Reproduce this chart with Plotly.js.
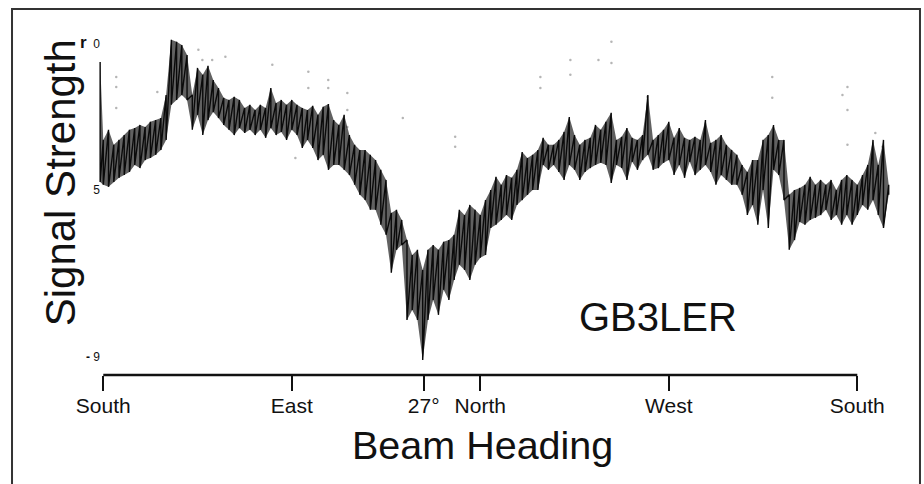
<!DOCTYPE html>
<html>
<head>
<meta charset="utf-8">
<script src="https://cdn.plot.ly/plotly-3.0.1.min.js"></script>
<style>
  html, body { margin: 0; padding: 0; background: #fff; }
  #chart { width: 924px; height: 484px; }
</style>
</head>
<body>
<div id="chart"></div>
<script>
// Beam heading, in degrees of rotation from South (South=0, East=90, North=180, West=270, South=360)
const heading = [-1.5, 0, 2.5, 5, 7.5, 10, 12.5, 15, 17.5, 20, 22.5, 25, 27.5, 30, 32.5, 35, 37.5, 40, 42.5, 45, 47.5, 50, 52.5, 55, 57.5, 60, 62.5, 65, 67.5, 70, 72.5, 75, 77.5, 80, 82.5, 85, 87.5, 90, 92.5, 95, 97.5, 100, 102.5, 105, 107.5, 110, 112.5, 115, 117.5, 120, 122.5, 125, 127.5, 130, 132.5, 135, 137.5, 140, 142.5, 145, 147.5, 150, 152.5, 155, 157.5, 160, 162.5, 165, 167.5, 170, 172.5, 175, 177.5, 180, 182.5, 185, 187.5, 190, 192.5, 195, 197.5, 200, 202.5, 205, 207.5, 210, 212.5, 215, 217.5, 220, 222.5, 225, 227.5, 230, 232.5, 235, 237.5, 240, 242.5, 245, 247.5, 250, 252.5, 255, 257.5, 260, 262.5, 265, 267.5, 270, 272.5, 275, 277.5, 280, 282.5, 285, 287.5, 290, 292.5, 295, 297.5, 300, 302.5, 305, 307.5, 310, 312.5, 315, 317.5, 320, 322.5, 325, 327.5, 330, 332.5, 335, 337.5, 340, 342.5, 345, 347.5, 350, 352.5, 355, 357.5, 360, 362.5, 365, 367.5, 370, 372.5, 375];

// Signal level: upper excursion of the trace at each heading
const signalHigh = [0.52, 2.76, 2.47, 2.90, 2.76, 2.62, 2.47, 2.42, 2.33, 2.39, 2.24, 2.19, 2.13, 1.47, -0.12, -0.06, 0.03, 0.32, 1.47, 0.69, 0.89, 0.63, 1.04, 1.27, 1.55, 1.61, 1.52, 1.61, 1.84, 1.75, 1.90, 1.75, 1.84, 1.27, 1.70, 1.61, 1.75, 1.61, 1.75, 1.84, 1.90, 1.78, 2.04, 1.81, 1.73, 2.19, 2.33, 2.04, 2.62, 2.90, 3.05, 3.05, 3.19, 3.34, 3.62, 3.91, 4.86, 4.77, 5.06, 5.64, 6.07, 5.92, 6.50, 5.92, 5.78, 5.92, 5.69, 5.64, 5.49, 4.77, 4.92, 4.63, 4.77, 4.92, 4.49, 4.20, 3.82, 4.05, 3.77, 3.85, 3.62, 3.11, 3.28, 3.19, 3.05, 2.70, 2.90, 2.90, 2.76, 2.53, 2.10, 2.62, 2.90, 2.76, 2.70, 2.33, 2.47, 2.24, 1.98, 2.76, 2.67, 2.42, 2.70, 2.76, 2.62, 1.47, 2.76, 2.62, 2.47, 2.24, 2.70, 2.42, 2.70, 2.76, 2.67, 2.76, 2.19, 2.85, 2.76, 2.62, 2.90, 3.05, 3.19, 3.48, 3.68, 3.34, 3.34, 2.76, 2.62, 2.33, 2.76, 2.76, 4.34, 4.20, 4.14, 4.05, 3.82, 4.05, 3.91, 4.05, 3.91, 4.20, 3.91, 3.77, 3.91, 4.05, 3.77, 3.48, 2.76, 3.48, 2.76, 4.05];

// Signal level: lower excursion of the trace at each heading
const signalLow = [3.97, 4.05, 4.11, 3.97, 3.85, 3.77, 3.68, 3.48, 3.57, 3.34, 3.28, 3.19, 3.05, 2.76, 1.75, 1.61, 1.47, 1.61, 2.47, 2.04, 2.62, 2.19, 1.96, 2.13, 2.33, 2.47, 2.62, 2.42, 2.56, 2.47, 2.62, 2.47, 2.70, 2.42, 2.62, 2.53, 2.76, 2.47, 2.62, 2.99, 2.76, 2.99, 3.34, 3.19, 3.62, 3.48, 3.48, 3.62, 3.77, 4.05, 4.34, 4.49, 4.77, 4.77, 5.20, 5.49, 6.58, 5.92, 5.78, 7.94, 7.65, 7.94, 9.09, 7.94, 7.36, 7.79, 7.07, 7.36, 6.79, 6.35, 6.50, 6.79, 6.35, 6.15, 6.07, 5.29, 5.20, 5.06, 4.92, 5.06, 4.63, 4.49, 4.34, 4.20, 4.20, 3.48, 3.62, 3.48, 3.68, 3.91, 3.48, 3.62, 3.91, 3.68, 3.57, 3.48, 3.42, 3.48, 4.00, 3.48, 3.57, 3.91, 3.39, 3.62, 3.34, 3.19, 3.62, 3.57, 3.42, 3.34, 3.77, 3.48, 3.85, 3.39, 3.77, 3.62, 3.48, 3.68, 4.05, 3.77, 3.91, 4.05, 4.05, 4.34, 4.92, 4.63, 5.20, 4.20, 5.29, 3.62, 3.77, 4.49, 5.92, 5.64, 5.12, 5.20, 5.06, 5.00, 4.92, 4.77, 5.06, 4.92, 5.20, 4.92, 5.20, 4.92, 4.63, 4.77, 4.49, 4.92, 5.29, 4.34];

// Faint stray pen marks on the original recording
const strayHeading = [6.2, 6.2, 6.2, 25.8, 45.4, 47.3, 52, 58.3, 80.7, 91.7, 97.9, 97.9, 107.4, 107.4, 116.5, 116.5, 116.5, 143, 168, 168, 208.7, 208.7, 223, 223, 236.4, 242.6, 242.6, 259.8, 319.4, 319.4, 352.9, 355.3, 355.3, 355.3, 368.6, 372];
const strayLevel = [0.95, 1.24, 1.84, 1.38, 0.17, 0.46, 0.46, 0.37, 0.60, 3.28, 0.80, 1.27, 1.04, 1.27, 1.41, 1.90, 2.39, 2.13, 2.67, 2.96, 0.95, 1.27, 0.46, 0.89, 0.46, -0.06, 0.55, 1.52, 0.95, 1.55, 1.47, 1.24, 1.90, 2.90, 2.56, 2.96];

// Axis ticks
const tickPositions = [0, 90, 153, 180, 270, 360];
const tickLabels = ['South', 'East', '27°', 'North', 'West', 'South'];
const levelTickPositions = [0, 4.2, 9];
const levelTickLabels = ['<span style="font-size:17px;font-weight:bold">r</span>\u00a0\u00a00', '5', '<b>-</b>\u00a09'];

// Trace: vertical stroke from high to low excursion at each heading
const tx = [], ty = [];
for (let i = 0; i < heading.length; i++) {
  tx.push(heading[i]); ty.push(signalHigh[i]);
  tx.push(heading[i]); ty.push(signalLow[i]);
}

const FONT = 'Liberation Sans, Arial, Helvetica, sans-serif';

const data = [
  {
    x: strayHeading, y: strayLevel, type: 'scatter', mode: 'markers',
    marker: { size: 2.5, color: 'rgba(90,90,90,0.45)' },
    hoverinfo: 'skip', showlegend: false
  },
  // shaded band between the excursions (the dense ink of the recording)
  {
    x: heading, y: signalHigh, type: 'scatter', mode: 'lines',
    line: { width: 0, color: 'rgba(0,0,0,0)' },
    hoverinfo: 'skip', showlegend: false
  },
  {
    x: heading, y: signalLow, type: 'scatter', mode: 'lines',
    line: { width: 0, color: 'rgba(0,0,0,0)' },
    fill: 'tonexty', fillcolor: 'rgba(15,15,15,0.66)',
    hoverinfo: 'skip', showlegend: false
  },
  {
    x: tx, y: ty, type: 'scatter', mode: 'lines',
    line: { color: '#0a0a0a', width: 1.4 },
    hoverinfo: 'skip', showlegend: false
  }
];

const layout = {
  width: 924, height: 484,
  margin: { l: 97, r: 29, t: 30, b: 109, pad: 0 },
  paper_bgcolor: '#fff', plot_bgcolor: '#fff',
  font: { family: FONT, color: '#111' },
  showlegend: false,
  xaxis: {
    range: [-3, 378],
    showgrid: false, zeroline: false, showline: false,
    tickmode: 'array', tickvals: tickPositions, ticktext: tickLabels,
    ticks: 'outside', ticklen: 15, tickwidth: 2, tickcolor: '#111',
    ticklabelstandoff: -3,
    tickfont: { family: FONT, size: 21, color: '#111' },
    fixedrange: true
  },
  yaxis: {
    range: [9.52, -0.40],
    showgrid: false, zeroline: false, showline: false,
    tickmode: 'array', tickvals: levelTickPositions, ticktext: levelTickLabels,
    ticks: '', ticklabelstandoff: -4,
    tickfont: { family: FONT, size: 12, color: '#111' },
    fixedrange: true
  },
  shapes: [
    // x axis line spanning South to South
    { type: 'line', xref: 'x', yref: 'paper', x0: 0, x1: 360, y0: 0, y1: 0,
      line: { color: '#111', width: 2.5 } },
    // outer frame of the figure
    { type: 'rect', xref: 'paper', yref: 'paper', x0: -0.1065, x1: 1.0313, y0: -0.35, y1: 1.0609,
      line: { color: '#333', width: 2 } }
  ],
  annotations: [
    { text: 'Beam Heading', xref: 'paper', yref: 'paper', x: 0.4825, y: -0.203,
      xanchor: 'center', yanchor: 'middle', showarrow: false,
      font: { family: FONT, size: 39.5, color: '#111' } },
    { text: 'Signal Strength', xref: 'paper', yref: 'paper', x: -0.046, y: 0.5565,
      xanchor: 'center', yanchor: 'middle', showarrow: false, textangle: -90,
      font: { family: FONT, size: 42, color: '#111' } },
    { text: 'GB3LER', xref: 'paper', yref: 'paper', x: 0.703, y: 0.168,
      xanchor: 'center', yanchor: 'middle', showarrow: false,
      font: { family: FONT, size: 40, color: '#111' } }
  ]
};

Plotly.newPlot('chart', data, layout, { displayModeBar: false, staticPlot: true });
</script>
</body>
</html>
